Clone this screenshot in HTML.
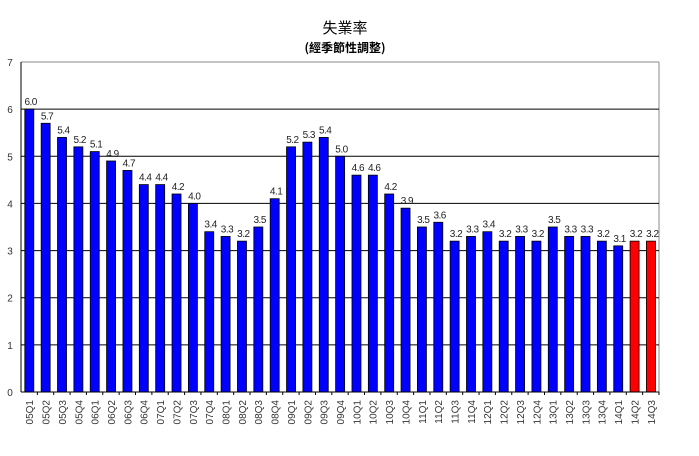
<!DOCTYPE html>
<html><head><meta charset="utf-8"><style>body{margin:0;background:#fff}svg{display:block}</style></head>
<body>
<div id="c"></div>
<script>
var d=[6.0,5.7,5.4,5.2,5.1,4.9,4.7,4.4,4.4,4.2,4.0,3.4,3.3,3.2,3.5,4.1,5.2,5.3,5.4,5.0,4.6,4.6,4.2,3.9,3.5,3.6,3.2,3.3,3.4,3.2,3.3,3.2,3.5,3.3,3.3,3.2,3.1,3.2,3.2];
var L=21,R=659,T=62,B=392,u=(B-T)/7,w=(R-L)/d.length,s='';
s+='<svg width="699" height="456" xmlns="http://www.w3.org/2000/svg" font-family="Liberation Sans, Noto Sans CJK TC, sans-serif">';
s+='<rect width="699" height="456" fill="#fff"/>';
s+='<text x="345" y="33" font-size="15" text-anchor="middle" font-family="Noto Sans CJK TC, sans-serif">失業率</text>';
s+='<text x="345" y="52" font-size="12" font-weight="bold" text-anchor="middle" font-family="Noto Sans CJK TC, sans-serif">(經季節性調整)</text>';
s+='<line x1="'+L+'" y1="'+T+'" x2="'+R+'" y2="'+T+'" stroke="#888" stroke-width="1"/>';
s+='<line x1="'+R+'" y1="'+T+'" x2="'+R+'" y2="'+B+'" stroke="#888" stroke-width="1"/>';
for(var i=0;i<=7;i++){var y=B-i*u;if(i>0&&i<7)s+='<line x1="'+L+'" y1="'+y+'" x2="'+R+'" y2="'+y+'" stroke="#000" stroke-width="1"/>';
s+='<text x="10" y="'+(y+4)+'" font-size="10" text-anchor="middle" fill="#333">'+i+'</text>';}
for(var j=0;j<d.length;j++){var x0=L+j*w,bx=x0+3.8,h=d[j]*u;
s+='<rect x="'+bx+'" y="'+(B-h)+'" width="9" height="'+h+'" fill="'+(j>=37?'#ff0000':'#0000ff')+'" stroke="#000" stroke-width="0.8"/>';
s+='<text x="'+(x0+w/2+1.5)+'" y="'+(B-h-4)+'" font-size="10" text-anchor="middle" fill="#222" letter-spacing="-0.5">'+d[j].toFixed(1)+'</text>';
s+='<line x1="'+(x0+w)+'" y1="'+B+'" x2="'+(x0+w)+'" y2="'+(B+3)+'" stroke="#000"/>';
var yy=Math.floor(5+j/4)+'',q=(j%4)+1;var lab=(yy.length<2?'0'+yy:yy)+'Q'+q;
var cx=x0+w/2+4;
s+='<text transform="translate('+cx+',400) rotate(-90)" font-size="10" text-anchor="end" fill="#333">'+lab+'</text>';}
s+='<line x1="'+L+'" y1="'+T+'" x2="'+L+'" y2="'+B+'" stroke="#000"/>';
s+='<line x1="'+L+'" y1="'+B+'" x2="'+R+'" y2="'+B+'" stroke="#000"/>';
s+='</svg>';
document.getElementById('c').innerHTML=s;
</script>
</body></html>
